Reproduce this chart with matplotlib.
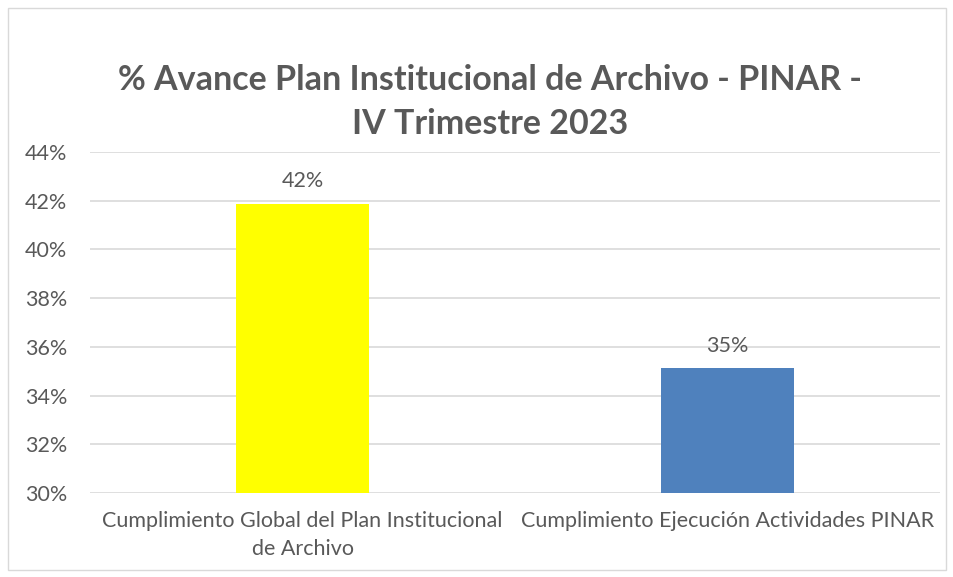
import matplotlib.pyplot as plt
from matplotlib.patches import Rectangle
from matplotlib.ticker import FuncFormatter

# data
categorias = ['Cumplimiento Global del Plan Institucional\nde Archivo',
              'Cumplimiento Ejecución Actividades PINAR']
avance = [41.88, 35.13]
etiquetas = ['42%', '35%']
colores = ['#FFFF00', '#4F81BD']
yticks = [30, 32, 34, 36, 38, 40, 42, 44]

plt.rcParams['font.family'] = ['Lato', 'DejaVu Sans']
gris = '#595959'

fig = plt.figure(figsize=(9.54, 5.77), dpi=100)
ax = fig.add_axes([90 / 954, 1 - 493 / 577, 850 / 954, (493 - 152) / 577])

x = list(range(len(categorias)))
ax.bar(x, [v - 30 for v in avance], bottom=30, width=0.315, color=colores, zorder=3)
for xi, v, t in zip(x, avance, etiquetas):
    ax.text(xi, v + 0.5, t, ha='center', va='bottom', fontsize=15.5, color=gris)

ax.set_xlim(-0.5, 1.5)
ax.set_ylim(30, 44)
ax.set_yticks(yticks)
ax.yaxis.set_major_formatter(FuncFormatter(lambda v, p: f'{v:.0f}%'))
ax.grid(axis='y', color='#D9D9D9', linewidth=1.2, zorder=0)
ax.set_xticks(x)
ax.set_xticklabels(categorias, fontsize=15.5, color=gris, linespacing=1.5)
ax.tick_params(axis='y', labelsize=15.5, labelcolor=gris, length=0, pad=16.5)
ax.tick_params(axis='x', length=0, pad=13)
for s in ax.spines.values():
    s.set_visible(False)

fig.text(490 / 954, 1 - 102 / 577, '% Avance Plan Institucional de Archivo - PINAR -\nIV Trimestre 2023',
         ha='center', va='center', fontsize=24.5, fontweight='bold', color=gris, linespacing=1.45)

# chart frame
fig.patches.append(Rectangle((8 / 954, 7 / 577), 938 / 954, 562 / 577, transform=fig.transFigure,
                             fill=False, edgecolor='#D9D9D9', linewidth=1))

fig.savefig('out.png', dpi=100)
